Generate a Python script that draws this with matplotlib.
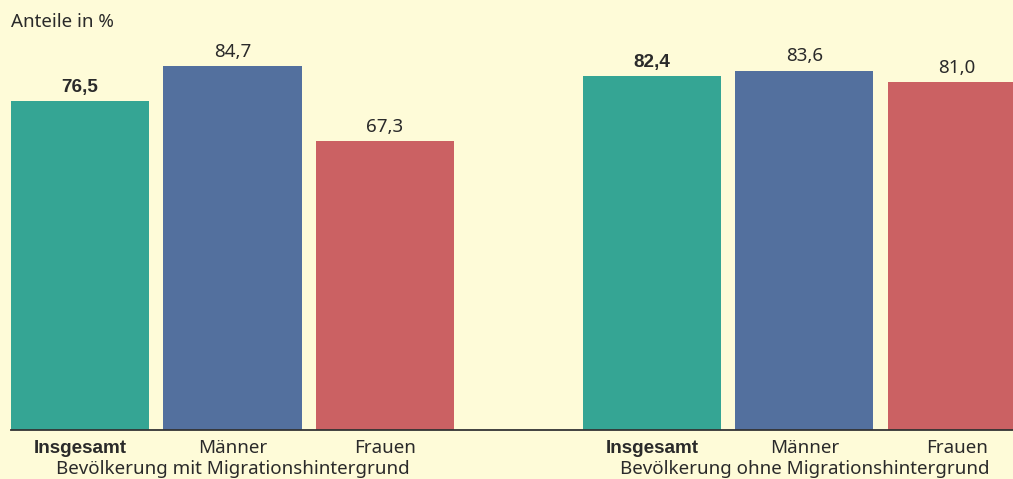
import matplotlib.pyplot as plt
from matplotlib.transforms import blended_transform_factory

# Daten
gruppen = ["Bevölkerung mit Migrationshintergrund", "Bevölkerung ohne Migrationshintergrund"]
kategorien = ["Insgesamt", "Männer", "Frauen"]
werte_mit = [76.5, 84.7, 67.3]
werte_ohne = [82.4, 83.6, 81.0]

farben = ["#35a594", "#53709e", "#cb6163"]
hintergrund = "#fefbd8"
textfarbe = "#2a2a2a"

plt.rcParams['font.family'] = ['Noto Sans', 'DejaVu Sans']

# fette Beschriftungen (Insgesamt) in Liberation Sans Bold
fett = dict(family=['Liberation Sans', 'DejaVu Sans'], fontweight="bold", fontsize=13.6)
normal = dict(fontsize=13.5)

fig = plt.figure(figsize=(10.13, 4.79), dpi=100, facecolor=hintergrund)
ax = fig.add_axes([11 / 1013, 49 / 479, 1002 / 1013, 430 / 479])
ax.set_facecolor(hintergrund)

# Positionen der Balken: zwei Gruppen mit Abstand
pos = [[0, 1, 2], [3.75, 4.75, 5.75]]
breite = 0.905

trans = blended_transform_factory(ax.transData, ax.transAxes)

for g, werte in enumerate([werte_mit, werte_ohne]):
    for i, w in enumerate(werte):
        stil = fett if i == 0 else normal
        ax.bar(pos[g][i], w, width=breite, color=farben[i], linewidth=0)
        ax.text(pos[g][i], w + 2.1, f"{w:.1f}".replace(".", ","),
                ha="center", va="baseline", color=textfarbe, **stil)
        # Kategorie unter dem Balken
        ax.text(pos[g][i], -23 / 430, kategorien[i], transform=trans,
                ha="center", va="baseline", color=textfarbe, **stil)
    # Gruppenname
    ax.text(pos[g][1], -44.5 / 430, gruppen[g], transform=trans,
            ha="center", va="baseline", color=textfarbe, **normal)

ax.set_xlim(-breite / 2, (1013 - 80) / 152.5)
ax.set_ylim(0, 100)

for s in ["top", "right", "left"]:
    ax.spines[s].set_visible(False)
ax.spines["bottom"].set_color("#333333")
ax.spines["bottom"].set_linewidth(1.3)
ax.set_yticks([])
ax.set_xticks([])

fig.text(11 / 1013, 1 - 27 / 479, "Anteile in %", ha="left", va="baseline",
         color=textfarbe, **normal)

fig.savefig("out.png", dpi=100, facecolor=hintergrund)
